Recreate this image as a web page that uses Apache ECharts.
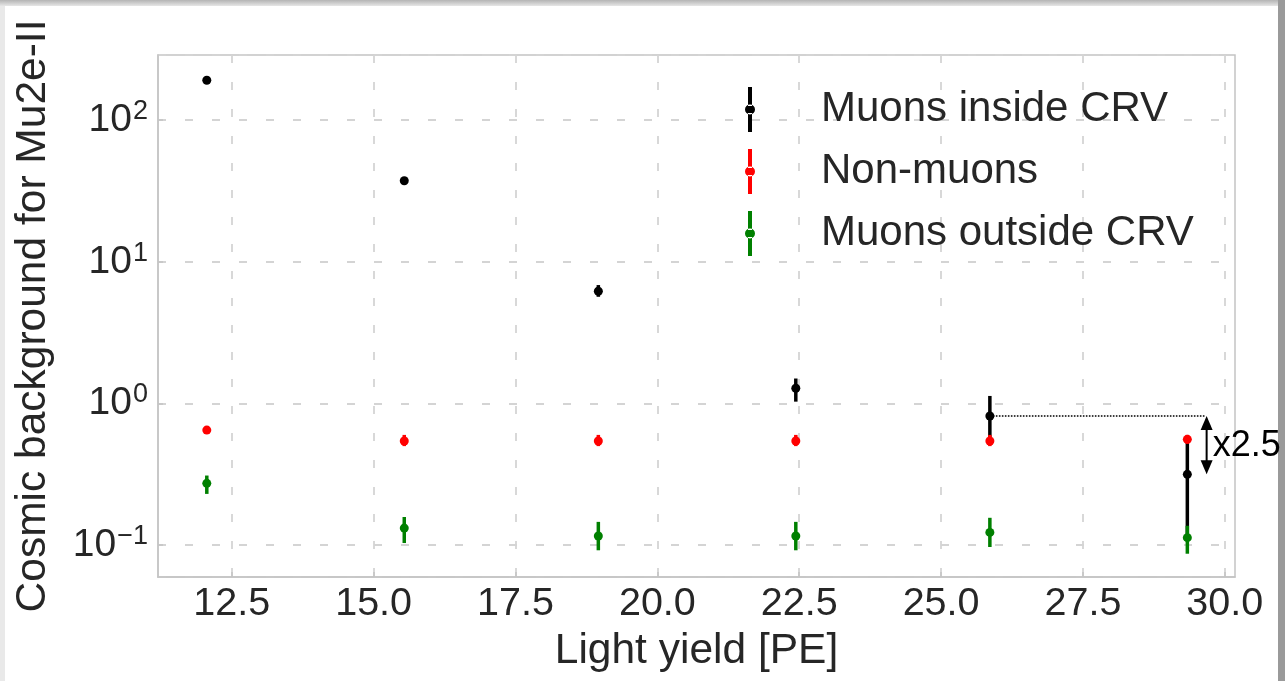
<!DOCTYPE html>
<html>
<head>
<meta charset="utf-8">
<script src="https://cdn.jsdelivr.net/npm/echarts@6/dist/echarts.min.js"></script>
<style>
  html, body { margin: 0; padding: 0; background: #ffffff; }
  #chart { width: 1285px; height: 681px; }
</style>
</head>
<body>
<div id="chart"></div>
<script>
// ---- data ----
const lightYield = [12.06, 15.54, 18.96, 22.44, 25.86, 29.34];

const seriesNames = ['Muons inside CRV', 'Non-muons', 'Muons outside CRV'];

const muonsInside     = [191, 37.3, 6.2, 1.28, 0.815, 0.316];
const muonsInsideLow  = [185, 36.0, 5.66, 1.03, 0.58, 0.12];
const muonsInsideHigh = [197, 38.6, 6.85, 1.50, 1.13, 0.56];

const nonMuons     = [0.649, 0.543, 0.543, 0.543, 0.543, 0.558];
const nonMuonsLow  = [0.61, 0.50, 0.50, 0.50, 0.50, 0.52];
const nonMuonsHigh = [0.69, 0.60, 0.60, 0.60, 0.60, 0.60];

const muonsOutside     = [0.273, 0.132, 0.116, 0.116, 0.123, 0.113];
const muonsOutsideLow  = [0.23, 0.1035, 0.092, 0.092, 0.097, 0.087];
const muonsOutsideHigh = [0.31, 0.158, 0.146, 0.146, 0.156, 0.137];

const xTicks = [12.5, 15.0, 17.5, 20.0, 22.5, 25.0, 27.5, 30.0];

// annotation: dotted reference line and x2.5 arrow
const refLineX = [25.86, 29.66];
const refLineY = 0.815;
const arrowX = 29.68;
const arrowFrom = 0.815;
const arrowTo = 0.316;
const arrowLabel = 'x2.5';

const FONT = '"Liberation Sans", Arial, sans-serif';
const TXT = '#262626';

function build(vals, lo, hi) {
  return lightYield.map((x, i) => [x, vals[i], lo[i], hi[i]]);
}

function errRender(params, api) {
  const x = api.value(0);
  const p = api.coord([x, api.value(1)]);
  const pl = api.coord([x, api.value(2)]);
  const ph = api.coord([x, api.value(3)]);
  const color = api.visual('color');
  return {
    type: 'group',
    children: [
      { type: 'line', shape: { x1: p[0], y1: ph[1], x2: p[0], y2: pl[1] },
        style: { stroke: color, lineWidth: 3.5 } },
      { type: 'circle', shape: { cx: p[0], cy: p[1], r: 4.5 },
        style: { fill: color } }
    ]
  };
}

function annoRender(params, api) {
  const a = api.coord([refLineX[0], refLineY]);
  const b = api.coord([refLineX[1], refLineY]);
  const t = api.coord([arrowX, arrowFrom]);
  const u = api.coord([arrowX, arrowTo]);
  const m = api.coord([arrowX, Math.sqrt(arrowFrom * arrowTo)]);
  const hw = 6, hh = 14;
  return {
    type: 'group',
    children: [
      { type: 'line', shape: { x1: a[0], y1: a[1], x2: b[0], y2: b[1] },
        style: { stroke: '#000', lineWidth: 1.6, lineDash: [1.6, 1.4] } },
      { type: 'line', shape: { x1: t[0], y1: t[1] + hh - 2, x2: u[0], y2: u[1] - hh + 2 },
        style: { stroke: '#000', lineWidth: 2 } },
      { type: 'polygon', shape: { points: [[t[0], t[1]], [t[0] - hw, t[1] + hh], [t[0] + hw, t[1] + hh]] },
        style: { fill: '#000' } },
      { type: 'polygon', shape: { points: [[u[0], u[1]], [u[0] - hw, u[1] - hh], [u[0] + hw, u[1] - hh]] },
        style: { fill: '#000' } },
      { type: 'text', x: m[0] + 6, y: m[1] + 1,
        style: { text: arrowLabel, fontSize: 36, fontFamily: FONT, fill: '#000',
                 align: 'left', verticalAlign: 'middle' } }
    ]
  };
}

// vertical error-bar line (two parts) with a dot in the middle
const legendIcon = 'path://M3,0h4v19h-4z M3,26h4v19h-4z M0,22.5a5,5 0 1,0 10,0a5,5 0 1,0 -10,0z';

function logLabel(v) {
  const e = Math.log10(v);
  const r = Math.round(e);
  if (Math.abs(e - r) > 1e-6) return '';
  const s = String(r).replace('-', '\u2212');
  return '{b|10}{s|' + s + '}';
}

const chart = echarts.init(document.getElementById('chart'), null, { renderer: 'canvas' });
chart.setOption({
  animation: false,
  backgroundColor: '#ffffff',
  color: ['#000000', '#ff0000', '#008000'],
  textStyle: { fontFamily: FONT },
  graphic: [
    { type: 'rect', z: -10, left: 0, top: 0, shape: { width: 5, height: 681 }, style: { fill: '#e9e9e9' } },
    { type: 'rect', z: -10, left: 0, top: 0, shape: { width: 1285, height: 6 },
      style: { fill: new echarts.graphic.LinearGradient(0, 0, 0, 1, [
        { offset: 0, color: '#b4b4b4' }, { offset: 1, color: '#e6e6e6' }]) } },
    { type: 'rect', z: -10, left: 1278, top: 0, shape: { width: 7, height: 681 }, style: { fill: '#9a9a9a' } }
  ],
  grid: {
    left: 158, right: 50, top: 55, bottom: 104,
    show: true, borderColor: '#c4c4c4', borderWidth: 1.5, backgroundColor: '#ffffff',
    outerBoundsMode: 'none'
  },
  legend: {
    data: seriesNames,
    orient: 'vertical',
    left: 740, top: 82,
    itemWidth: 10, itemHeight: 45, itemGap: 17,
    icon: legendIcon,
    textStyle: { fontSize: 42, color: TXT, fontFamily: FONT, padding: [0, 0, 0, 61] },
    selectedMode: false
  },
  xAxis: {
    type: 'value',
    min: 11.2, max: 30.18,
    name: 'Light yield [PE]',
    nameLocation: 'middle',
    nameGap: 53,
    nameTextStyle: { fontSize: 42.5, color: TXT, fontFamily: FONT },
    axisLine: { show: true, lineStyle: { color: '#c4c4c4', width: 1.5 } },
    axisTick: { show: true, inside: true, length: 5, customValues: xTicks,
                lineStyle: { color: '#c4c4c4', width: 1.5 } },
    axisLabel: { customValues: xTicks, margin: 7, fontSize: 39.5, color: TXT, fontFamily: FONT,
                 formatter: v => v.toFixed(1) },
    splitLine: { show: true, lineStyle: { color: '#d4d4d4', width: 1.8, type: [8, 19] } }
  },
  yAxis: {
    type: 'log',
    logBase: 10,
    min: 0.0596, max: 288,
    name: 'Cosmic background for Mu2e-II',
    nameLocation: 'middle',
    nameRotate: 90,
    nameGap: 103,
    nameTextStyle: { fontSize: 42.5, color: TXT, fontFamily: FONT },
    axisLine: { show: true, lineStyle: { color: '#c4c4c4', width: 1.5 } },
    axisTick: { show: true, inside: true, length: 5, lineStyle: { color: '#c4c4c4', width: 1.5 } },
    minorTick: { show: false },
    axisLabel: {
      margin: 10, color: TXT, fontFamily: FONT,
      showMinLabel: false, showMaxLabel: false,
      formatter: logLabel,
      rich: {
        b: { fontSize: 39, lineHeight: 44, color: TXT, fontFamily: FONT },
        s: { fontSize: 27, lineHeight: 27, color: TXT, fontFamily: FONT, verticalAlign: 'top', padding: [0, 0, 0, 1] }
      }
    },
    splitLine: { show: true, lineStyle: { color: '#d4d4d4', width: 1.8, type: [8, 19] } }
  },
  series: [
    { name: seriesNames[0], type: 'custom', renderItem: errRender, clip: false,
      itemStyle: { color: '#000000' }, encode: { x: 0, y: [1, 2, 3] },
      data: build(muonsInside, muonsInsideLow, muonsInsideHigh), z: 3 },
    { name: seriesNames[1], type: 'custom', renderItem: errRender, clip: false,
      itemStyle: { color: '#ff0000' }, encode: { x: 0, y: [1, 2, 3] },
      data: build(nonMuons, nonMuonsLow, nonMuonsHigh), z: 4 },
    { name: seriesNames[2], type: 'custom', renderItem: errRender, clip: false,
      itemStyle: { color: '#008000' }, encode: { x: 0, y: [1, 2, 3] },
      data: build(muonsOutside, muonsOutsideLow, muonsOutsideHigh), z: 5 },
    { name: 'annotation', type: 'custom', renderItem: annoRender, clip: false, silent: true,
      encode: { x: 0, y: 1 }, data: [[arrowX, arrowFrom]], z: 6 }
  ]
});
</script>
</body>
</html>
